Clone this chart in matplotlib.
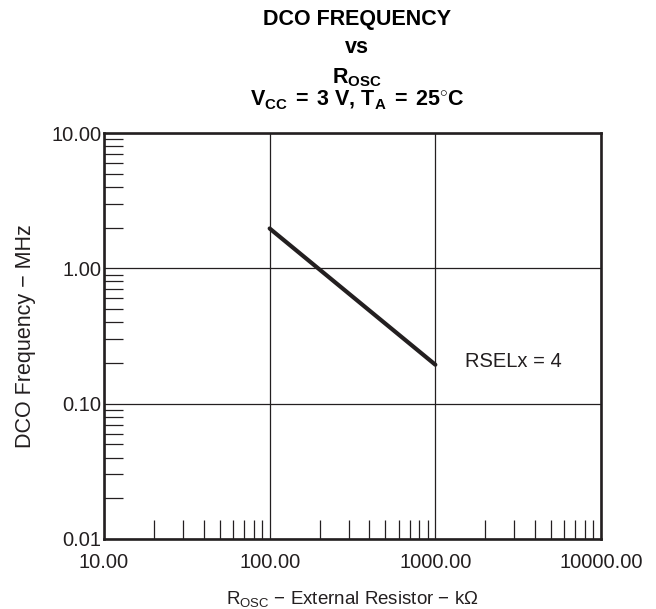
import numpy as np
import matplotlib
matplotlib.use("Agg")
import matplotlib.pyplot as plt
from matplotlib.ticker import LogLocator, FixedLocator, FixedFormatter, NullFormatter

# ------------------------------------------------------------
# data
# ------------------------------------------------------------
r_osc = [100.0, 1000.0]          # kOhm
f_dco = [1.97, 0.194]            # MHz
curve_label = "RSELx = 4"

x_ticks = [10, 100, 1000, 10000]
x_labels = ["10.00", "100.00", "1000.00", "10000.00"]
y_ticks = [0.01, 0.1, 1, 10]
y_labels = ["0.01", "0.10", "1.00", "10.00"]

ink = "#231f20"

plt.rcParams["font.family"] = ["Liberation Sans", "DejaVu Sans"]
plt.rcParams["mathtext.fontset"] = "custom"
plt.rcParams["mathtext.rm"] = "Liberation Sans"
plt.rcParams["mathtext.bf"] = "Liberation Sans:bold"
plt.rcParams["mathtext.it"] = "Liberation Sans:italic"

fig = plt.figure(figsize=(6.56, 6.09), dpi=100)
ax = fig.add_axes([104/656, 1 - 539/609, 497/656, 406/609])

ax.plot(r_osc, f_dco, color=ink, linewidth=3.0, solid_capstyle="round", zorder=3)

ax.set_xscale("log")
ax.set_yscale("log")
ax.set_xlim(10, 10000)
ax.set_ylim(0.01, 10)

ax.xaxis.set_major_locator(FixedLocator(x_ticks))
ax.xaxis.set_major_formatter(FixedFormatter(x_labels))
ax.yaxis.set_major_locator(FixedLocator(y_ticks))
ax.yaxis.set_major_formatter(FixedFormatter(y_labels))
ax.xaxis.set_minor_locator(LogLocator(base=10, subs=np.arange(2, 10), numticks=20))
ax.yaxis.set_minor_locator(LogLocator(base=10, subs=np.arange(2, 10), numticks=20))
ax.xaxis.set_minor_formatter(NullFormatter())
ax.yaxis.set_minor_formatter(NullFormatter())

ax.grid(True, which="major", color=ink, linewidth=0.9)
ax.tick_params(which="major", length=0, labelsize=14.5, labelcolor=ink)
ax.tick_params(axis="x", which="major", pad=10)
ax.tick_params(axis="y", which="major", pad=2)
ax.tick_params(which="minor", direction="in", length=14, width=0.9, color=ink,
               top=False, right=False)

for s in ax.spines.values():
    s.set_linewidth(1.9)
    s.set_color(ink)

ax.text(1510, 0.2047, curve_label, fontsize=14.5, color=ink, ha="left", va="center")

ax.set_xlabel(r"$\mathrm{R_{OSC}}$ − External Resistor − kΩ", fontsize=13.5, color=ink,
              labelpad=12)
ax.set_ylabel("DCO Frequency − MHz", fontsize=15.5, color=ink, labelpad=11)

# title block
cx = 357/656
fig.text(cx, 1 - 25/609, "DCO FREQUENCY", ha="center", va="baseline",
         fontsize=15.5, fontweight="bold", color="black")
fig.text(cx, 1 - 53/609, "vs", ha="center", va="baseline",
         fontsize=15.5, fontweight="bold", color="black")
fig.text(cx, 1 - 83/609, r"$\mathbf{R_{OSC}}$", ha="center", va="baseline",
         fontsize=15.5, color="black")
fig.text(cx, 1 - 105/609, r"$\mathbf{V_{CC}\;{=}\;3\ V{,}\ T_A\;{=}\;25^{\circ}C}$",
         ha="center", va="baseline", fontsize=15.5, color="black")

fig.savefig("out.png", dpi=100)
